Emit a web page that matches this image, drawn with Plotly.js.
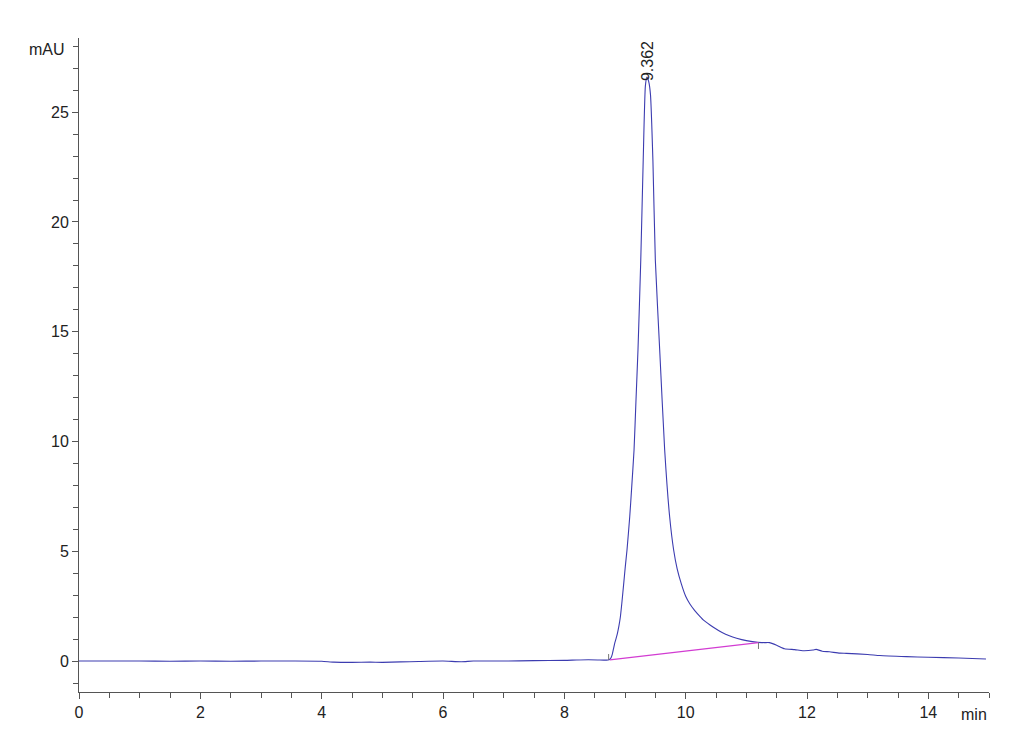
<!DOCTYPE html>
<html>
<head>
<meta charset="utf-8">
<script src="https://cdn.plot.ly/plotly-3.0.1.min.js"></script>
<style>html,body{margin:0;padding:0;background:#fff;}#chart{width:1030px;height:755px;}</style>
</head>
<body>
<div id="chart"></div>
<script>
// Retention time (min)
const timeMin = [0, 0.5, 1, 1.5, 2, 2.5, 3, 3.5, 4, 4.2, 4.5, 4.8, 5.0, 5.3, 5.6, 6.0, 6.3, 6.5, 7.0, 7.5, 8.0, 8.2, 8.4, 8.55, 8.65, 8.72, 8.75, 8.77, 8.79, 8.81, 8.83, 8.85, 8.875, 8.90, 8.924, 8.95, 8.979, 9.005, 9.033, 9.078, 9.11, 9.149, 9.18, 9.214, 9.26, 9.30, 9.336, 9.362, 9.39, 9.42, 9.46, 9.50, 9.572, 9.654, 9.736, 9.802, 9.86, 9.93, 10.0, 10.07, 10.15, 10.23, 10.3, 10.45, 10.6, 10.72, 10.84, 11.0, 11.19, 11.3, 11.38, 11.5, 11.63, 11.8, 11.93, 12.1, 12.15, 12.25, 12.37, 12.54, 12.65, 13.0, 13.2, 13.64, 14.0, 14.5, 14.95];
// Absorbance (mAU)
const signal = [0, 0, 0, -0.01, 0, -0.01, 0, 0, -0.01, -0.05, -0.06, -0.05, -0.06, -0.04, -0.02, 0, -0.03, 0, 0, 0.02, 0.03, 0.05, 0.06, 0.05, 0.04, 0.05, 0.08, 0.15, 0.3, 0.55, 0.81, 1.0, 1.26, 1.6, 2.02, 2.7, 3.54, 4.3, 5.06, 6.57, 7.9, 9.61, 11.8, 14.17, 18.27, 22.8, 26.2, 26.6, 26.4, 25.8, 22.8, 18.27, 14.17, 9.61, 6.57, 5.06, 4.2, 3.5, 2.95, 2.6, 2.3, 2.05, 1.85, 1.55, 1.3, 1.15, 1.04, 0.93, 0.85, 0.84, 0.84, 0.72, 0.56, 0.52, 0.47, 0.5, 0.53, 0.45, 0.42, 0.36, 0.35, 0.3, 0.25, 0.2, 0.17, 0.14, 0.09];
// Integration baseline
const baseT = [8.75, 11.2];
const baseV = [0.05, 0.84];
// Integration start/end markers
const markT = [8.73, 11.2];
const markLo = [0.05, 0.55];
const markHi = [0.32, 0.84];
// Peak label
const peakT = 9.362;
const peakV = 26.6;
const peakLabel = "9.362";

const markX = [], markY = [];
for (let i = 0; i < markT.length; i++) {
  markX.push(markT[i], markT[i], null);
  markY.push(markLo[i], markHi[i], null);
}

const font = {family: "Liberation Sans Narrow, Liberation Sans, Arial, sans-serif", size: 16, color: "#222"};

const data = [
  {x: timeMin, y: signal, type: "scatter", mode: "lines", line: {color: "#3c3cb0", width: 1.1, shape: "spline", smoothing: 0.5}, hoverinfo: "x+y"},
  {x: baseT, y: baseV, type: "scatter", mode: "lines", line: {color: "#d23cd2", width: 1.2}},
  {x: markX, y: markY, type: "scatter", mode: "lines", line: {color: "#777", width: 1}}
];

const layout = {
  width: 1030, height: 755,
  margin: {l: 79, r: 41, t: 38, b: 63},
  paper_bgcolor: "#fff", plot_bgcolor: "#fff",
  showlegend: false,
  font: font,
  xaxis: {
    range: [0, 15], showgrid: false, zeroline: false,
    showline: true, linecolor: "#555", linewidth: 1,
    ticks: "outside", ticklen: 6, tickcolor: "#555",
    tickmode: "linear", tick0: 0, dtick: 2,
    minor: {dtick: 0.5, ticks: "outside", ticklen: 5, tickcolor: "#555"},
    tickfont: font
  },
  yaxis: {
    range: [-1.41, 28.38], showgrid: false, zeroline: false,
    showline: true, linecolor: "#555", linewidth: 1,
    ticks: "outside", ticklen: 6, tickcolor: "#555",
    tickmode: "linear", tick0: 0, dtick: 5,
    minor: {dtick: 1, ticks: "outside", ticklen: 5, tickcolor: "#555"},
    tickfont: font
  },
  annotations: [
    {x: peakT, y: peakV, xref: "x", yref: "y", text: peakLabel, showarrow: false,
     textangle: -90, xanchor: "center", yanchor: "bottom", yshift: -6, font: font},
    {x: -12/910, y: 0.982, xref: "paper", yref: "paper", text: "mAU", showarrow: false,
     xanchor: "right", yanchor: "middle", font: font},
    {x: 1.0, y: -0.035, xref: "paper", yref: "paper", text: "min", showarrow: false,
     xanchor: "right", yanchor: "middle", font: font}
  ]
};

Plotly.newPlot("chart", data, layout, {displayModeBar: false, staticPlot: true});
</script>
</body>
</html>
